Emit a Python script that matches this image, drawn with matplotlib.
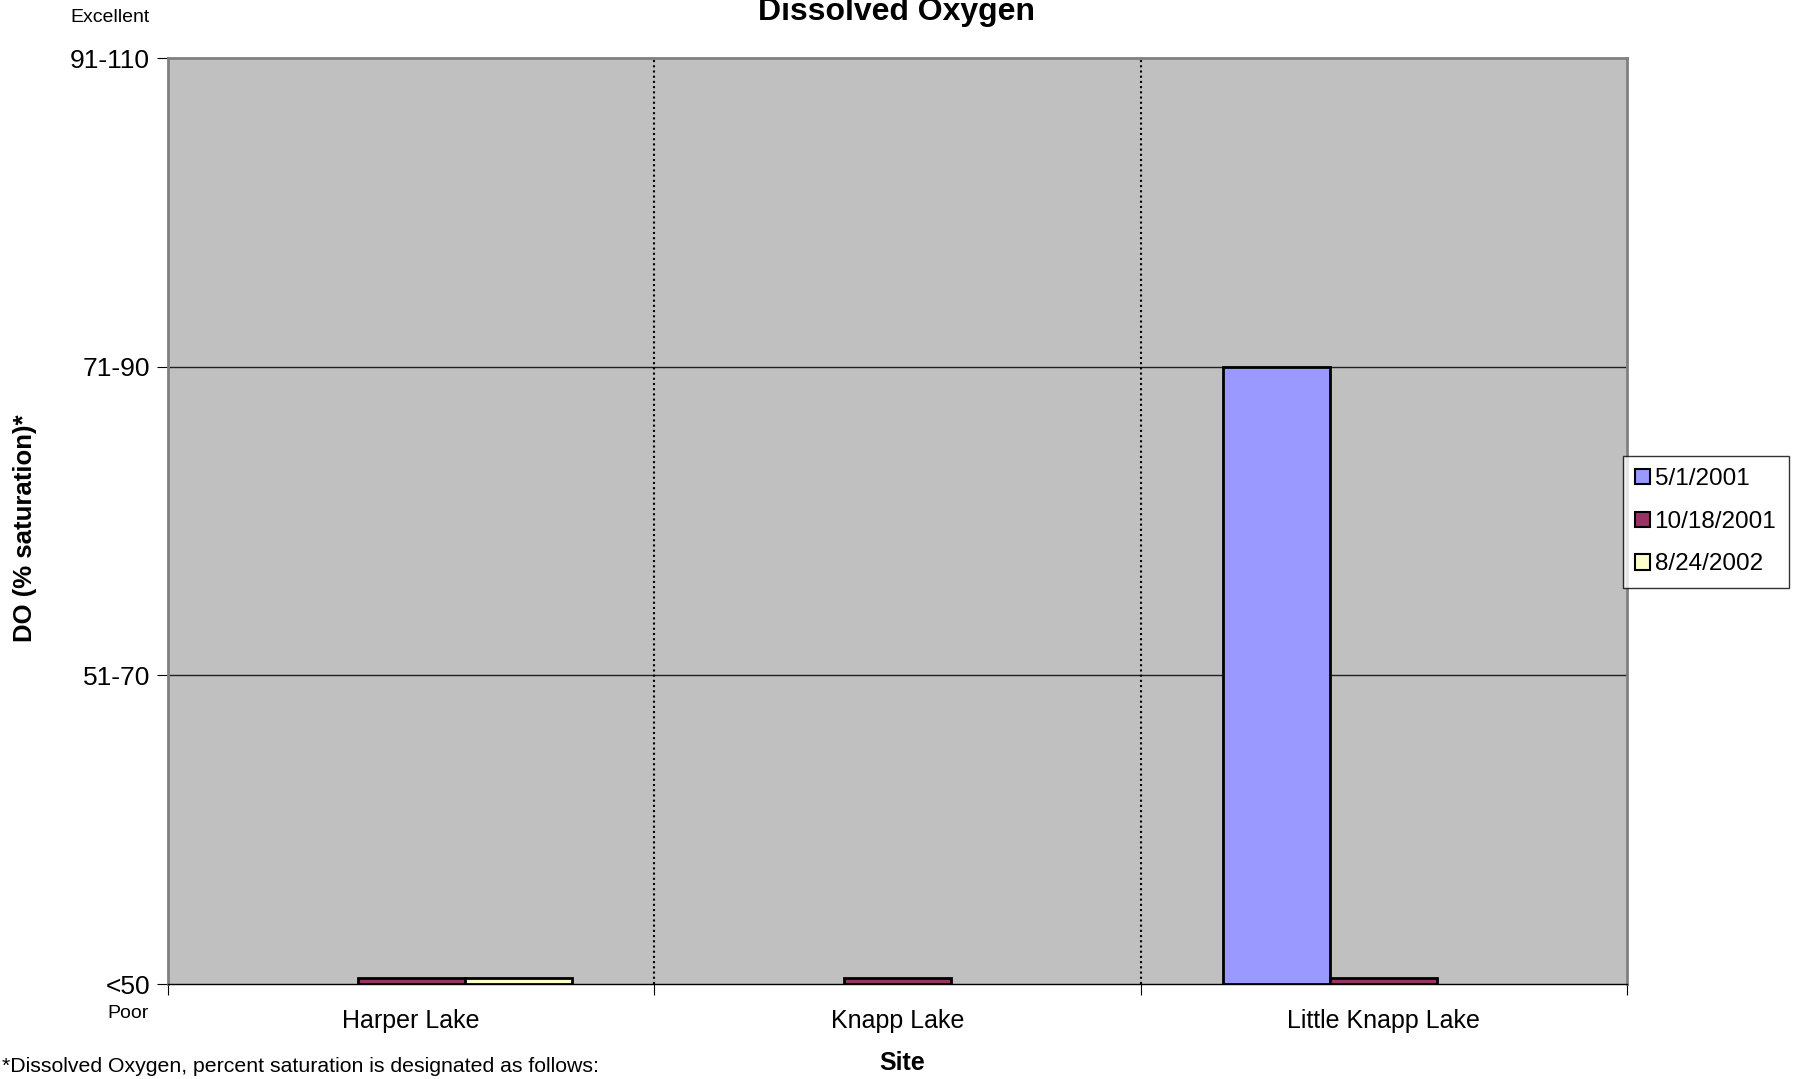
# Dissolved Oxygen by site, rating classes on the y axis

import numpy as np
import matplotlib.pyplot as plt

plt.rcParams['font.family'] = ['Liberation Sans', 'DejaVu Sans']

sites = ['Harper Lake', 'Knapp Lake', 'Little Knapp Lake']
dates = ['5/1/2001', '10/18/2001', '8/24/2002']
# rating class index: 0 = <50, 1 = 51-70, 2 = 71-90, 3 = 91-110
do_0501_2001 = [np.nan, np.nan, 2.0]
do_1018_2001 = [0.02, 0.02, 0.02]
do_0824_2002 = [0.02, np.nan, np.nan]
class_labels = ['<50', '51-70', '71-90', '91-110']
colors = ['#9999FF', '#993366', '#FFFFCC']

W, H = 1797, 1079
fig = plt.figure(figsize=(W / 100, H / 100), dpi=100)
ax = fig.add_axes([168 / W, 1 - 984 / H, (1627 - 168) / W, (984 - 58) / H])
ax.set_facecolor('#C0C0C0')

x = np.arange(len(sites)) + 0.5
bw = 0.22
series = [do_0501_2001, do_1018_2001, do_0824_2002]
for i, (vals, lab, c) in enumerate(zip(series, dates, colors)):
    ax.bar(x + (i - 1) * bw, vals, width=bw, color=c, edgecolor='black',
           linewidth=2, label=lab, zorder=3)

ax.set_xlim(0, 3)
ax.set_ylim(0, 3)
ax.set_yticks(range(4))
ax.set_yticklabels(class_labels, fontsize=19)
ax.set_xticks([0, 1, 2, 3])
ax.set_xticklabels([])
ax.set_xticks(x, minor=True)
ax.set_xticklabels(sites, minor=True, fontsize=18)
ax.tick_params(axis='x', which='minor', length=0, pad=18)
ax.tick_params(axis='x', which='major', length=8, direction='out')
ax.tick_params(axis='y', length=8, direction='out', pad=5)

for yv in [1, 2]:
    ax.axhline(yv, color='#202020', linewidth=1, zorder=1)
for xv in [1, 2]:
    ax.axvline(xv, color='black', linewidth=1.5, linestyle=(0, (1, 1.5)), zorder=1)

for s in ['top', 'left', 'right']:
    ax.spines[s].set_color('#808080')
    ax.spines[s].set_linewidth(2)
ax.spines['bottom'].set_color('black')
ax.spines['bottom'].set_linewidth(1)

fig.text(902 / W, 1 - 1063 / H, 'Site', fontsize=18, fontweight='bold',
         ha='center', va='center')
fig.text(25 / W, 1 - 528 / H, 'DO (% saturation)*', fontsize=18.5, fontweight='bold',
         rotation=90, ha='center', va='center')

fig.text(897 / W, 1 - 12 / H, 'Dissolved Oxygen', fontsize=23, fontweight='bold',
         ha='center', va='center')
fig.text(110 / W, 1 - 17 / H, 'Excellent', fontsize=14, ha='center', va='center')
fig.text(128 / W, 1 - 1013 / H, 'Poor', fontsize=14, ha='center', va='center')
fig.text(2 / W, 1 - 1076 / H, '*Dissolved Oxygen, percent saturation is designated as follows:',
         fontsize=15.3, ha='left', va='bottom')

leg = fig.legend(loc='upper left', bbox_to_anchor=(1623 / W, 1 - 456 / H),
                 fontsize=17.5, frameon=True, fancybox=False, edgecolor='black',
                 handlelength=0.6, handleheight=0.6, handletextpad=0.2,
                 labelspacing=0.85, borderpad=0.5, borderaxespad=0)
leg.get_frame().set_linewidth(1)
for h in leg.legend_handles:
    h.set_linewidth(1.5)

plt.savefig('out.png', dpi=100)
